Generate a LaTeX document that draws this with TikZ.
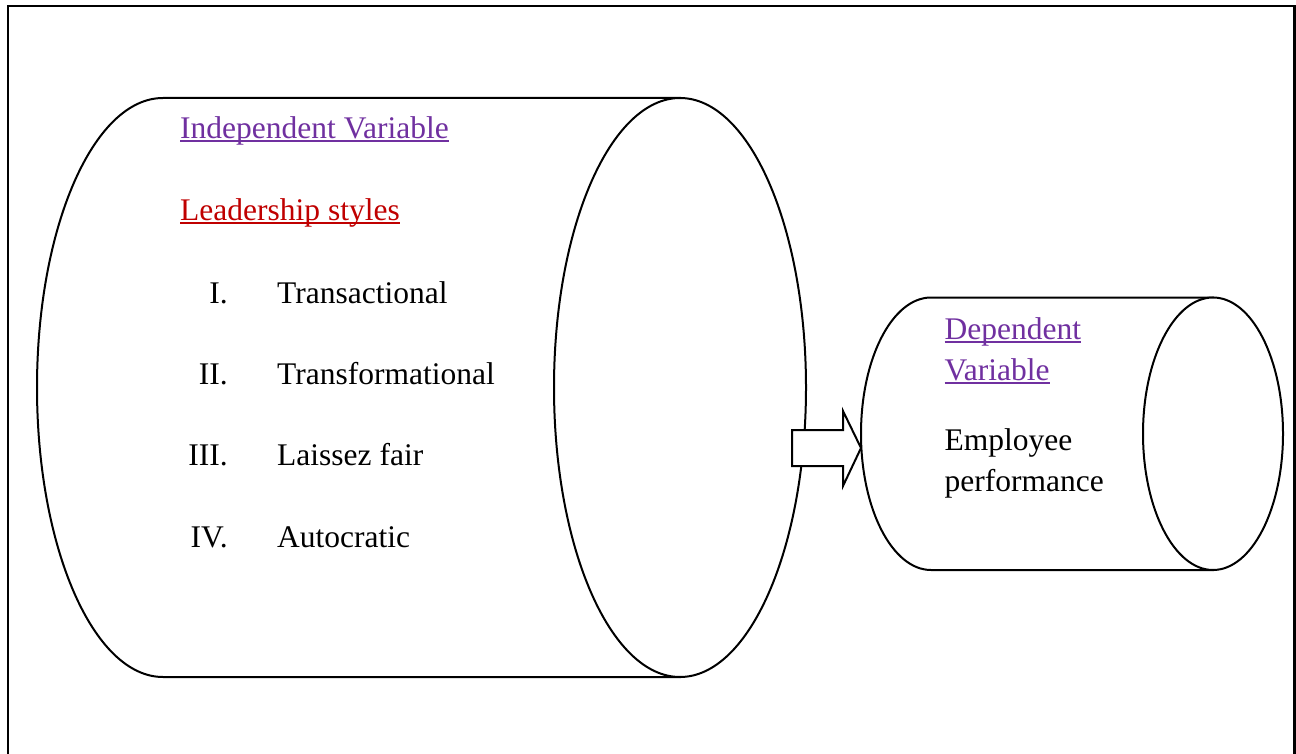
\documentclass[tikz,border=0pt]{standalone}
\usepackage{fontspec}
\setmainfont{Liberation Serif}
\definecolor{ulpurple}{HTML}{7030A0}
\definecolor{ulred}{HTML}{C00000}
\tikzset{
  txt/.style={font=\fontsize{31.5}{42}\selectfont, inner sep=0pt, anchor=base west},
  num/.style={txt, anchor=base east},
  cyl/.style={draw=black, line width=2pt, fill=white},
  framebox/.style={line width=2.4pt},
  ulpurp/.style={draw=ulpurple, line width=2pt},
  ulrd/.style={draw=ulred, line width=2pt},
}
\begin{document}
\begin{tikzpicture}[x=1pt,y=-1pt]
\useasboundingbox (0,0) rectangle (1296,754);
% frame (bottom edge not shown)
\draw[framebox] (8,756) -- (8,6) -- (1294.5,6) -- (1294.5,756);
% big cylinder
\coordinate (bigR) at (680,387.5);
\draw[cyl] (163,98) -- (680,98) -- (680,677) -- (163,677)
  arc[start angle=270, end angle=90, x radius=126pt, y radius=289.5pt] -- cycle;
\draw[cyl] (bigR) ellipse [x radius=126pt, y radius=289.5pt];
% small cylinder
\coordinate (smR) at (1213,433.75);
\draw[cyl] (931,297.5) -- (1213,297.5) -- (1213,570) -- (931,570)
  arc[start angle=270, end angle=90, x radius=70pt, y radius=136.25pt] -- cycle;
\draw[cyl] (smR) ellipse [x radius=70pt, y radius=136.25pt];
% block arrow
\draw[cyl, line join=miter] (792,430) -- (843,430) -- (843,411) -- (861,448) -- (843,486) -- (843,466) -- (792,466) -- cycle;
% texts in big cylinder
\node[txt, text=ulpurple] (iv) at (180,139) {Independent Variable};
\draw[ulpurp] ([yshift=-2.5pt]iv.base west) -- ([yshift=-2.5pt]iv.base east);
\node[txt, text=ulred] (ls) at (180,221) {Leadership styles};
\draw[ulrd] ([yshift=-2.5pt]ls.base west) -- ([yshift=-2.5pt]ls.base east);
\node[num] (n1) at (228,303) {I.};
\node[txt] (t1) at (277,303) {Transactional};
\node[num] (n2) at (228,384.5) {II.};
\node[txt] (t2) at (277,384.5) {Transformational};
\node[num] (n3) at (228,465.5) {III.};
\node[txt] (t3) at (277,465.5) {Laissez fair};
\node[num] (n4) at (228,547) {IV.};
\node[txt] (t4) at (277,547) {Autocratic};
% texts in small cylinder
\node[txt, text=ulpurple] (dv1) at (944.5,339) {Dependent};
\draw[ulpurp] ([yshift=-2.5pt]dv1.base west) -- ([yshift=-2.5pt]dv1.base east);
\node[txt, text=ulpurple] (dv2) at (944.5,380.5) {Variable};
\draw[ulpurp] ([yshift=-2.5pt]dv2.base west) -- ([yshift=-2.5pt]dv2.base east);
\node[txt] (ep1) at (944.5,450) {Employee};
\node[txt] (ep2) at (944.5,491.5) {performance};
\end{tikzpicture}
\end{document}
